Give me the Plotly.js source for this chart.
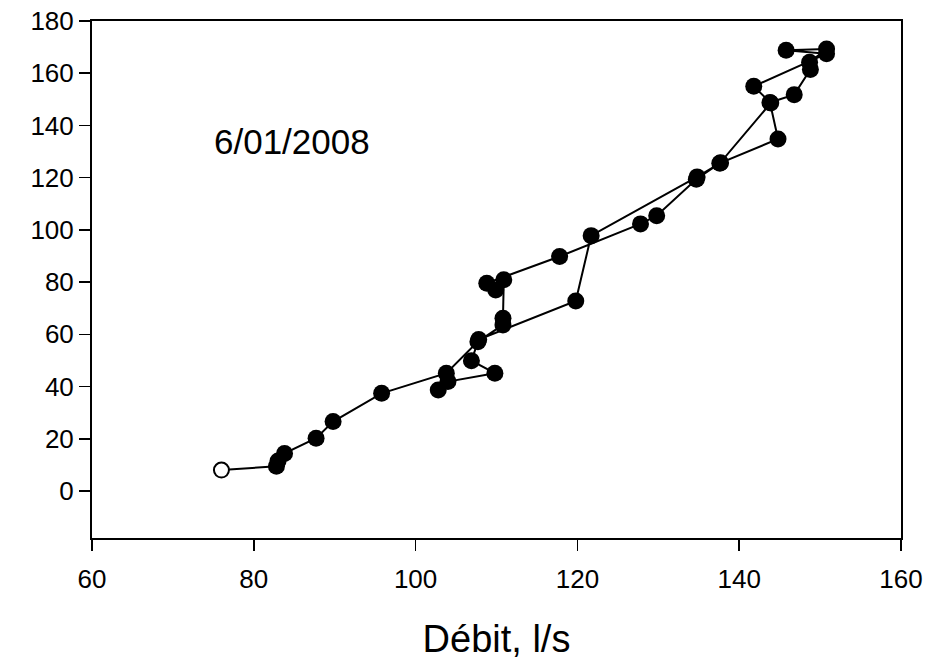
<!DOCTYPE html>
<html>
<head>
<meta charset="utf-8">
<script src="https://cdn.plot.ly/plotly-3.0.1.min.js"></script>
<style>html,body{margin:0;padding:0;background:#fff;}#chart{width:935px;height:667px;}</style>
</head>
<body>
<div id="chart"></div>
<script>
// Data (discharge l/s vs. value), in time order
const startX = [76];
const startY = [8];
const debit = [76, 82.8, 83, 83.8, 87.7, 89.8, 95.8, 103.8, 107.7, 110.8, 110.8, 110.9, 109.9, 108.8,
  117.8, 127.8, 129.8, 134.7, 137.7, 144.8, 143.8, 146.8, 148.8, 148.7, 150.8, 145.8, 150.8,
  141.8, 143.9, 137.6, 134.8, 121.7, 119.8, 107.8, 106.9, 109.8, 104.0, 102.8];
const valeur = [8, 9.5, 11.5, 14.4, 20.2, 26.6, 37.4, 45.1, 57.2, 63.6, 66.2, 80.9, 77.0, 79.6,
  89.8, 102.3, 105.4, 119.4, 125.7, 134.8, 148.8, 151.8, 161.4, 164.2, 169.3, 168.8, 167.5,
  155.0, 148.6, 125.5, 120.3, 97.8, 72.8, 58.0, 49.9, 45.1, 41.9, 38.7];
const xTicks = [60, 80, 100, 120, 140, 160];
const yTicks = [0, 20, 40, 60, 80, 100, 120, 140, 160, 180];
const dateLabel = "6/01/2008";
const xTitle = "Débit, l/s";

const font = "Arial, 'Liberation Sans', sans-serif";

const traces = [
  {
    x: debit.slice(1), y: valeur.slice(1),
    mode: "markers", type: "scatter",
    marker: {color: "#000", size: 17, line: {width: 0}},
    hoverinfo: "x+y", showlegend: false
  },
  {
    x: debit, y: valeur,
    mode: "lines", type: "scatter",
    line: {color: "#000", width: 2},
    hoverinfo: "skip", showlegend: false
  },
  {
    x: startX, y: startY,
    mode: "markers", type: "scatter",
    marker: {color: "#fff", size: 15, line: {color: "#000", width: 2}},
    showlegend: false
  }
];

const layout = {
  width: 935, height: 667,
  margin: {l: 92, r: 34, t: 21, b: 129},
  paper_bgcolor: "#fff", plot_bgcolor: "#fff",
  font: {family: font, color: "#000", size: 26},
  showlegend: false,
  xaxis: {
    range: [60, 160], tickvals: xTicks, ticktext: xTicks.map(String),
    ticks: "outside", ticklen: 11, tickwidth: 1.5, tickcolor: "#000",
    showline: true, linecolor: "#000", linewidth: 2, mirror: true,
    showgrid: false, zeroline: false, ticklabelstandoff: 6,
    tickfont: {family: font, size: 26, color: "#000"},
    title: {text: xTitle, font: {family: font, size: 38, color: "#000"}, standoff: 32}
  },
  yaxis: {
    range: [-18, 180], tickvals: yTicks, ticktext: yTicks.map(String),
    ticks: "outside", ticklen: 11, tickwidth: 1.5, tickcolor: "#000",
    showline: true, linecolor: "#000", linewidth: 2, mirror: true,
    showgrid: false, zeroline: false,
    tickfont: {family: font, size: 26, color: "#000"}
  },
  annotations: [{
    text: dateLabel, x: 84.7, y: 134, xref: "x", yref: "y",
    xanchor: "center", yanchor: "middle", showarrow: false,
    font: {family: font, size: 35, color: "#000"}
  }]
};

Plotly.newPlot("chart", traces, layout, {displayModeBar: false, staticPlot: true});
</script>
</body>
</html>
